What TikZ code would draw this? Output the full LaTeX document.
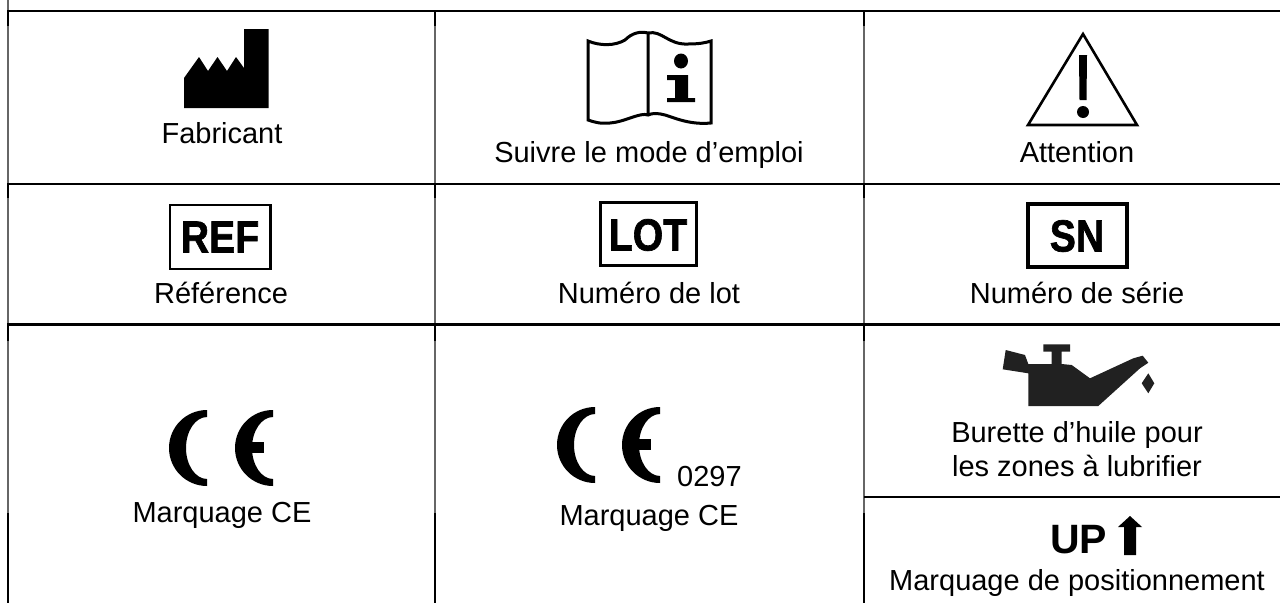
\documentclass[tikz,border=0pt]{standalone}
\usepackage{fontspec}
\setmainfont{Liberation Sans}
\newfontfamily\boxfont[FakeBold=1.5]{Liberation Sans Bold}
\tikzset{
 lbl/.style={inner sep=0pt,anchor=base,font=\fontsize{29}{34}\selectfont,align=center},
 boxlbl/.style={inner sep=0pt,font=\fontsize{45}{45}\selectfont\boxfont},
 hthick/.style={line width=2.6pt},
 vthin/.style={line width=1.2pt,draw=black!60},
 vthick/.style={line width=2.2pt},
 sym/.style={draw=black,line width=3pt,fill=none},
}
\newcommand{\crescent}[2]{%
 \fill (#1+38,#2-38) .. controls (#1+17,#2-38) and (#1,#2-21) .. (#1,#2)
  .. controls (#1,#2+21) and (#1+17,#2+38) .. (#1+38,#2+38)
  -- (#1+38,#2+31) .. controls (#1+26.4,#2+31) and (#1+17,#2+17) .. (#1+17,#2)
  .. controls (#1+17,#2-17) and (#1+26.4,#2-31) .. (#1+38,#2-31) -- cycle;
}
\newcommand{\cemark}[3]{%
 \crescent{#1}{#2}\crescent{#3}{#2}
 \fill (#3+10,#2-6) rectangle (#3+29,#2+5);
}
\begin{document}
\begin{tikzpicture}[x=1pt,y=-1pt]
\useasboundingbox (0,0) rectangle (1280,603);
% grid
\draw[vthin] (8,0) -- (8,513);
\draw[vthin] (435,11) -- (435,513);
\draw[vthin] (864,11) -- (864,513);
\foreach \x in {8,435,864}{
 \draw[vthick] (\x,11) -- (\x,26) (\x,184) -- (\x,198) (\x,324) -- (\x,341) (\x,513) -- (\x,603);
}
\draw[hthick] (7,11) -- (1280,11);
\draw[hthick] (7,184) -- (1280,184);
\draw[hthick] (7,324.5) -- (1280,324.5);
\draw[line width=2pt] (864,497) -- (1280,497);
% factory
\fill (184,108) -- (184,78) -- (199,57) -- (208,71) -- (217.5,57) -- (227,71) -- (236,57) -- (244,68) -- (244,29) -- (268.6,29) -- (268.6,108) -- cycle;
% book
\draw[sym] (648,33) .. controls (662,30) and (668,45) .. (688,44) .. controls (698,44) and (705,43) .. (711,41) -- (711,123)
 .. controls (690,125) and (675,118) .. (665,115) .. controls (658,113) and (652,113) .. (648,115)
 .. controls (640,112) and (625,122) .. (610,123) .. controls (600,124) and (594,122) .. (588,120) -- (588,41)
 .. controls (600,46) and (615,46) .. (625,40) .. controls (632,33) and (640,31) .. (648,33) -- (648,115);
\fill (681,61) ellipse[x radius=7,y radius=7.5];
\fill (667,75) -- (688,75) -- (688,98) -- (695,98) -- (695,102) -- (667,102) -- (667,98) -- (675,98) -- (675,80) -- (667,80) -- cycle;
% warning
\draw[line width=2.6pt,miter limit=10] (1083,34) -- (1028,125) -- (1137,125) -- cycle;
\fill (1079,55) -- (1087,55) -- (1086.5,100) -- (1079.5,100) -- cycle;
\fill (1083,112) circle[radius=6];
% boxes
\draw[line width=2.2pt] (170,205) rectangle (270.5,269);
\draw[line width=3pt] (600,202) rectangle (696,265);
\draw[line width=3.2pt] (1028,204) rectangle (1127,267);
\node[boxlbl] (ref) at (220,237) {\scalebox{.87}[1]{REF}};
\node[boxlbl] (lot) at (648,235) {\scalebox{.87}[1]{LOT}};
\node[boxlbl] (sn) at (1077,236) {\scalebox{.87}[1]{SN}};
% CE
\cemark{169}{448}{235}
\cemark{557}{445}{622}
% oil can
\fill[black!87] (1028.3,406) -- (1098.3,406) -- (1140,368.3) -- (1148.3,362.7) -- (1142.7,355.7) -- (1133.3,358.3) -- (1090,378.3) -- (1071.7,365) -- (1061.7,364) -- (1061.7,351.7) -- (1070,351.7) -- (1070,344.3) -- (1043.3,344.3) -- (1043.3,351.7) -- (1051.7,351.7) -- (1051.7,364) -- (1028.3,364) -- (1025,355) -- (1005.7,350) -- (1002.7,369.3) -- (1028.3,373.3) -- cycle;
\fill[black!87] (1148.3,373.3) -- (1154.3,383.3) -- (1148.3,393.3) -- (1141.7,383.3) -- cycle;
% arrow
\fill (1130,516) -- (1142,527) -- (1136,527) -- (1136,555) -- (1124,555) -- (1124,527) -- (1118,527) -- cycle;
% labels
\node[lbl] (fab) at (222,143) {Fabricant};
\node[lbl] (suivre) at (649,162) {Suivre le mode d’emploi};
\node[lbl] (att) at (1077,162) {Attention};
\node[lbl] (refl) at (221,303) {Référence};
\node[lbl] (lotl) at (649,303) {Numéro de lot};
\node[lbl] (snl) at (1077,303) {Numéro de série};
\node[lbl] (ce1) at (222,522) {Marquage CE};
\node[lbl] (ce2) at (649,525) {Marquage CE};
\node[lbl,anchor=base west] (num) at (677,486) {0297};
\node[lbl] (bur1) at (1077,442) {Burette d’huile pour};
\node[lbl] (bur2) at (1077,476) {les zones à lubrifier};
\node[lbl,font=\fontsize{41}{41}\selectfont\bfseries,anchor=base west] (up) at (1050,553) {UP};
\node[lbl] (pos) at (1077,590) {Marquage de positionnement};
\end{tikzpicture}
\end{document}
